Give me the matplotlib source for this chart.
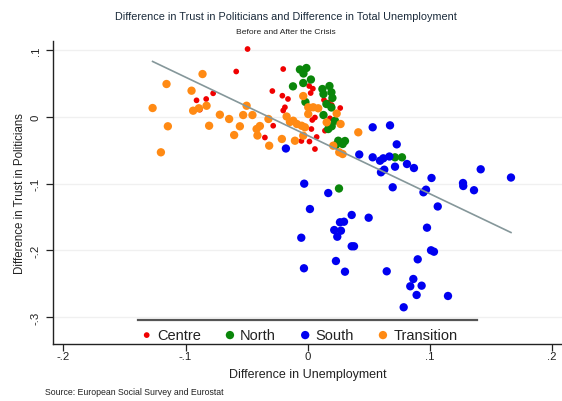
import numpy as np
import matplotlib
matplotlib.use("Agg")
import matplotlib.pyplot as plt

plt.rcParams['font.family'] = ['Liberation Sans', 'DejaVu Sans']

# Difference in unemployment (x) and difference in trust in politicians (y), by region
centre_x = [-0.0492, -0.0585, -0.0774, -0.0910, -0.0831, -0.0883, -0.0200, -0.0289, -0.0207, -0.0161,
            -0.0186, -0.0200, 0.0013, 0.0043, 0.0025, 0.0134, 0.0169, 0.0197, 0.0267, 0.0038,
            0.0060, 0.0031, 0.0183, -0.0282, -0.0350, -0.0051, 0.0015, 0.0074, 0.0060, 0.0142, 0.0033]
centre_y = [0.1012, 0.0676, 0.0350, 0.0245, 0.0265, 0.0105, 0.0713, 0.0384, 0.0314, 0.0265,
            0.0141, 0.0093, 0.0459, 0.0419, 0.0354, 0.0250, 0.0212, 0.0175, 0.0130, -0.0049,
            -0.0012, -0.0184, -0.0024, -0.0135, -0.0311, -0.0363, -0.0371, -0.0303, -0.0483, -0.0209, 0.0130]

north_x = [-0.0063, -0.0010, -0.0034, 0.0027, -0.0036, -0.0120, 0.0121, 0.0179, 0.0195, 0.0203,
           0.0130, -0.0018, 0.0130, 0.0224, 0.0169, 0.0197, 0.0154, 0.0195, 0.0251, 0.0287,
           0.0232, 0.0306, 0.0716, 0.0773, 0.0257]
north_y = [0.0706, 0.0728, 0.0646, 0.0556, 0.0504, 0.0454, 0.0414, 0.0459, 0.0365, 0.0280,
           0.0339, 0.0220, 0.0025, -0.0060, -0.0184, -0.0143, 0.0190, 0.0138, -0.0359, -0.0408,
           -0.0423, -0.0363, -0.0607, -0.0607, -0.1073]

south_x = [-0.0178, 0.0533, 0.0675, 0.0730, 0.0423, 0.0533, 0.0593, 0.0620, 0.0670, 0.0814,
           0.0871, 0.0716, 0.0601, 0.0628, 0.0697, 0.1015, 0.1418, 0.1666, 0.1273, 0.1275,
           0.1363, 0.0949, 0.0970, 0.1066, -0.0028, 0.0169, 0.0019, 0.0361, 0.0500, 0.0265,
           0.0298, 0.0218, 0.0273, 0.0243, -0.0052, 0.0361, 0.0380, 0.0232, -0.0030, 0.0306,
           0.0648, 0.0978, 0.1011, 0.1035, 0.0902, 0.0866, 0.0841, 0.0934, 0.0893, 0.1150, 0.0787]
south_y = [-0.0475, -0.0158, -0.0129, -0.0413, -0.0565, -0.0607, -0.0658, -0.0622, -0.0595, -0.0707,
           -0.0767, -0.0747, -0.0831, -0.0792, -0.1055, -0.0916, -0.0786, -0.0909, -0.0991, -0.1036,
           -0.1099, -0.1130, -0.1091, -0.1342, -0.1001, -0.1141, -0.1380, -0.1469, -0.1510, -0.1578,
           -0.1570, -0.1694, -0.1704, -0.1794, -0.1809, -0.1937, -0.1937, -0.2157, -0.2266, -0.2317,
           -0.2311, -0.1659, -0.1997, -0.2018, -0.2132, -0.2426, -0.2535, -0.2526, -0.2665, -0.2680, -0.2849]

transition_x = [-0.0861, -0.1156, -0.0951, -0.1270, -0.0938, -0.0891, -0.0828, -0.1145, -0.0807, -0.0719,
                -0.0643, -0.0528, -0.0452, -0.0500, -0.0555, -0.0602, -0.1202, -0.0418, -0.0391, -0.0411,
                -0.0321, -0.0315, -0.0211, -0.0172, -0.0145, -0.0118, -0.0088, -0.0049, -0.0022, -0.0036,
                -0.0104, -0.0036, 0.0005, 0.0046, 0.0087, 0.0005, 0.0238, 0.0270, 0.0156, 0.0210,
                0.0259, 0.0287, 0.0415]
transition_y = [0.0638, 0.0489, 0.0389, 0.0130, 0.0090, 0.0126, 0.0164, -0.0143, -0.0135, 0.0030,
                -0.0034, 0.0025, 0.0025, 0.0164, -0.0143, -0.0274, -0.0532, -0.0184, -0.0139, -0.0281,
                -0.0034, -0.0433, -0.0333, 0.0003, -0.0079, -0.0060, -0.0109, -0.0135, -0.0158, 0.0309,
                -0.0359, -0.0284, 0.0141, 0.0141, 0.0126, 0.0040, 0.0048, -0.0109, -0.0084, -0.0433,
                -0.0532, -0.0558, -0.0233]

# linear fit
fit_intercept = -0.028
fit_slope = -0.871

x_ticks = [-0.2, -0.1, 0, 0.1, 0.2]
x_ticklabels = ['-.2', '-.1', '0', '.1', '.2']
y_ticks = [0.1, 0, -0.1, -0.2, -0.3]
y_ticklabels = ['.1', '0', '-.1', '-.2', '-.3']

fig = plt.figure(figsize=(5.62, 4.02), dpi=100, facecolor='white')
ax = fig.add_axes([53 / 562, 57 / 402, 509 / 562, 303 / 402])

groups = [
    ('Centre', centre_x, centre_y, '#f00000', 17),
    ('North', north_x, north_y, '#0a860a', 36),
    ('South', south_x, south_y, '#0000f0', 36),
    ('Transition', transition_x, transition_y, '#ff8a14', 36),
]
for name, xs, ys, col, size in groups:
    ax.scatter(xs, ys, s=size, color=col, edgecolors='none', label=name, zorder=3)

all_x = np.concatenate([centre_x, north_x, south_x, transition_x])
fx = np.array([all_x.min(), all_x.max()])
ax.plot(fx, fit_intercept + fit_slope * fx, color='#85979a', lw=1.2, zorder=4)

ax.set_xlim(-0.2086, 0.2084)
ax.set_ylim(-0.3398, 0.1132)
ax.set_xticks(x_ticks)
ax.set_xticklabels(x_ticklabels)
ax.set_yticks(y_ticks)
ax.set_yticklabels(y_ticklabels, rotation=90, va='center')
ax.tick_params(axis='both', length=5, width=0.9, color='#222222', labelsize=8.2, labelcolor='#222222')
ax.tick_params(axis='x', pad=0)
ax.tick_params(axis='y', pad=4)

ax.grid(axis='y', color='#f0f0f0', lw=1.0, zorder=0)
ax.set_axisbelow(True)
for side in ['top', 'right']:
    ax.spines[side].set_visible(False)
for side in ['left', 'bottom']:
    ax.spines[side].set_color('#222222')
    ax.spines[side].set_linewidth(1.0)

ax.set_xlabel('Difference in Unemployment', fontsize=9, color='#222222', labelpad=5)
ax.set_ylabel('Difference in Trust in Politicians', fontsize=8.3, color='#222222', labelpad=3)

leg = ax.legend(loc='center', bbox_to_anchor=(0.482, 0.03), ncol=4, frameon=False,
                fontsize=10.5, handletextpad=0.2, columnspacing=1.5, borderaxespad=0,
                handlelength=1.0, markerscale=1.0, labelcolor='#222222')
ax.plot([0.167, 0.833], [0.079, 0.079], transform=ax.transAxes, color='#555555', lw=1.6,
        clip_on=False, zorder=5)

fig.text(286 / 562, 1 - 17 / 402, 'Difference in Trust in Politicians and Difference in Total Unemployment',
         ha='center', va='center', fontsize=7.8, color='#1a2a3a')
fig.text(286 / 562, 1 - 32 / 402, 'Before and After the Crisis',
         ha='center', va='center', fontsize=6.1, color='#222222')
fig.text(45 / 562, 1 - 393 / 402, 'Source: European Social Survey and Eurostat',
         ha='left', va='center', fontsize=6.3, color='#222222')

fig.savefig('out.png', dpi=100, facecolor='white')
